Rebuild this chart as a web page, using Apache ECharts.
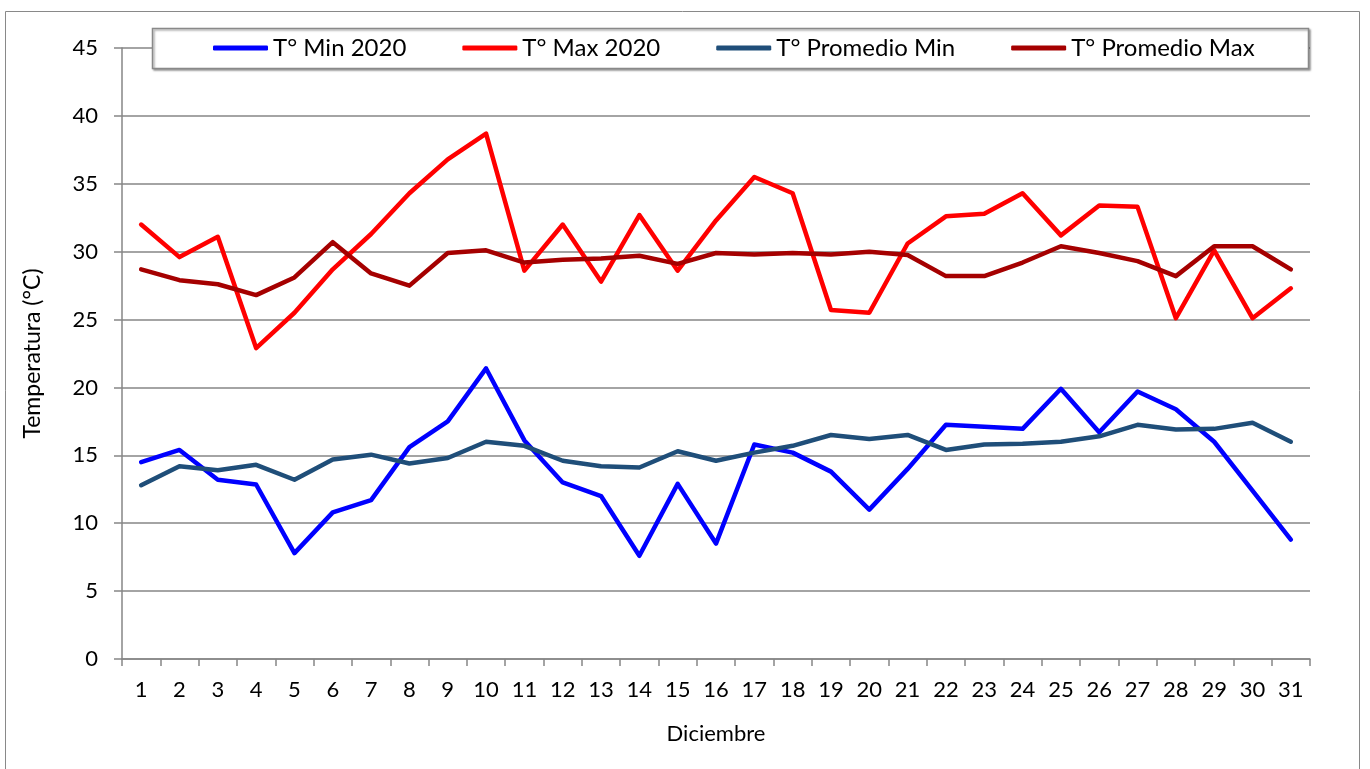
<!DOCTYPE html>
<html>
<head>
<meta charset="utf-8">
<script src="https://cdn.jsdelivr.net/npm/echarts@6/dist/echarts.min.js"></script>
<style>
html,body{margin:0;padding:0;background:#fff;}
#chart{width:1370px;height:769px;}
</style>
</head>
<body>
<div id="chart"></div>
<script>
const days = ['1','2','3','4','5','6','7','8','9','10','11','12','13','14','15','16','17','18','19','20','21','22','23','24','25','26','27','28','29','30','31'];
const tMin2020 = [14.5,15.4,13.2,12.85,7.8,10.8,11.7,15.6,17.5,21.4,16.1,13.0,12.0,7.6,12.9,8.5,15.8,15.2,13.8,11.0,14.0,17.25,17.1,16.95,19.9,16.7,19.7,18.4,16.0,12.4,8.8];
const tMax2020 = [32.0,29.6,31.1,22.9,25.5,28.7,31.3,34.3,36.8,38.7,28.6,32.0,27.8,32.7,28.6,32.3,35.5,34.3,25.7,25.5,30.6,32.6,32.8,34.3,31.2,33.4,33.3,25.1,30.1,25.1,27.3];
const promMin = [12.8,14.2,13.9,14.3,13.2,14.7,15.05,14.4,14.8,16.0,15.7,14.6,14.2,14.1,15.3,14.6,15.2,15.7,16.5,16.2,16.5,15.4,15.8,15.85,16.0,16.4,17.25,16.9,16.95,17.4,16.0];
const promMax = [28.7,27.9,27.6,26.8,28.1,30.7,28.4,27.5,29.9,30.1,29.2,29.4,29.5,29.7,29.1,29.9,29.8,29.9,29.8,30.0,29.75,28.2,28.2,29.2,30.4,29.9,29.3,28.2,30.4,30.4,28.7];
const seriesNames = ['T° Min 2020','T° Max 2020','T° Promedio Min','T° Promedio Max'];
const seriesColors = ['#0000FF','#FF0000','#1F4E79','#A50000'];
const seriesData = [tMin2020, tMax2020, promMin, promMax];

const FONT = 'Lato, "Open Sans", sans-serif';
const AX = '#868686';

const chart = echarts.init(document.getElementById('chart'));
chart.setOption({
  backgroundColor: '#fff',
  animation: false,
  textStyle: {fontFamily: FONT, color: '#000'},
  graphic: [
    {type: 'rect', z: 0, silent: true, shape: {x: 5.5, y: 11.5, width: 1354, height: 770},
     style: {fill: 'none', stroke: '#898989', lineWidth: 1}},
    {type: 'rect', z: 3, zlevel: 0, silent: true, shape: {x: 152.5, y: 28.5, width: 1156, height: 40},
     style: {fill: '#fff', stroke: '#898989', lineWidth: 1.5,
       shadowBlur: 2, shadowOffsetX: 1.5, shadowOffsetY: 1.5, shadowColor: 'rgba(0,0,0,0.35)'}}
  ],
  legend: {
    z: 5,
    left: 213, top: 35, padding: 0,
    itemGap: 56, itemWidth: 55, itemHeight: 5,
    icon: 'roundRect',
    textStyle: {fontFamily: FONT, fontSize: 24, color: '#000', lineHeight: 26},
    data: seriesNames
  },
  grid: {left: 122, right: 60, top: 48, bottom: 110, containLabel: false},
  xAxis: {
    type: 'category', data: days, boundaryGap: true,
    name: 'Diciembre', nameLocation: 'middle', nameGap: 64,
    nameTextStyle: {fontFamily: FONT, fontSize: 22, color: '#000'},
    axisLine: {lineStyle: {color: AX, width: 1.5}},
    axisTick: {show: true, interval: 0, length: 7, lineStyle: {color: AX, width: 1.5}},
    axisLabel: {interval: 0, margin: 20, fontSize: 22, color: '#000', fontFamily: FONT}
  },
  yAxis: {
    type: 'value', min: 0, max: 45, interval: 5,
    name: 'Temperatura (°C)', nameLocation: 'middle', nameGap: 78, nameRotate: 90,
    nameTextStyle: {fontFamily: FONT, fontSize: 23, color: '#000'},
    axisLine: {show: true, lineStyle: {color: AX, width: 1.5}},
    axisTick: {show: true, length: 8, lineStyle: {color: AX, width: 1.5}},
    axisLabel: {margin: 24, fontSize: 22, color: '#000', fontFamily: FONT},
    splitLine: {show: true, lineStyle: {color: AX, width: 1.5}}
  },
  series: seriesNames.map((n, i) => ({
    name: n, type: 'line', data: seriesData[i],
    symbol: 'none', showSymbol: false, z: 2,
    lineStyle: {color: seriesColors[i], width: 4.5, cap: 'round', join: 'round'},
    itemStyle: {color: seriesColors[i]}
  }))
});
</script>
</body>
</html>
